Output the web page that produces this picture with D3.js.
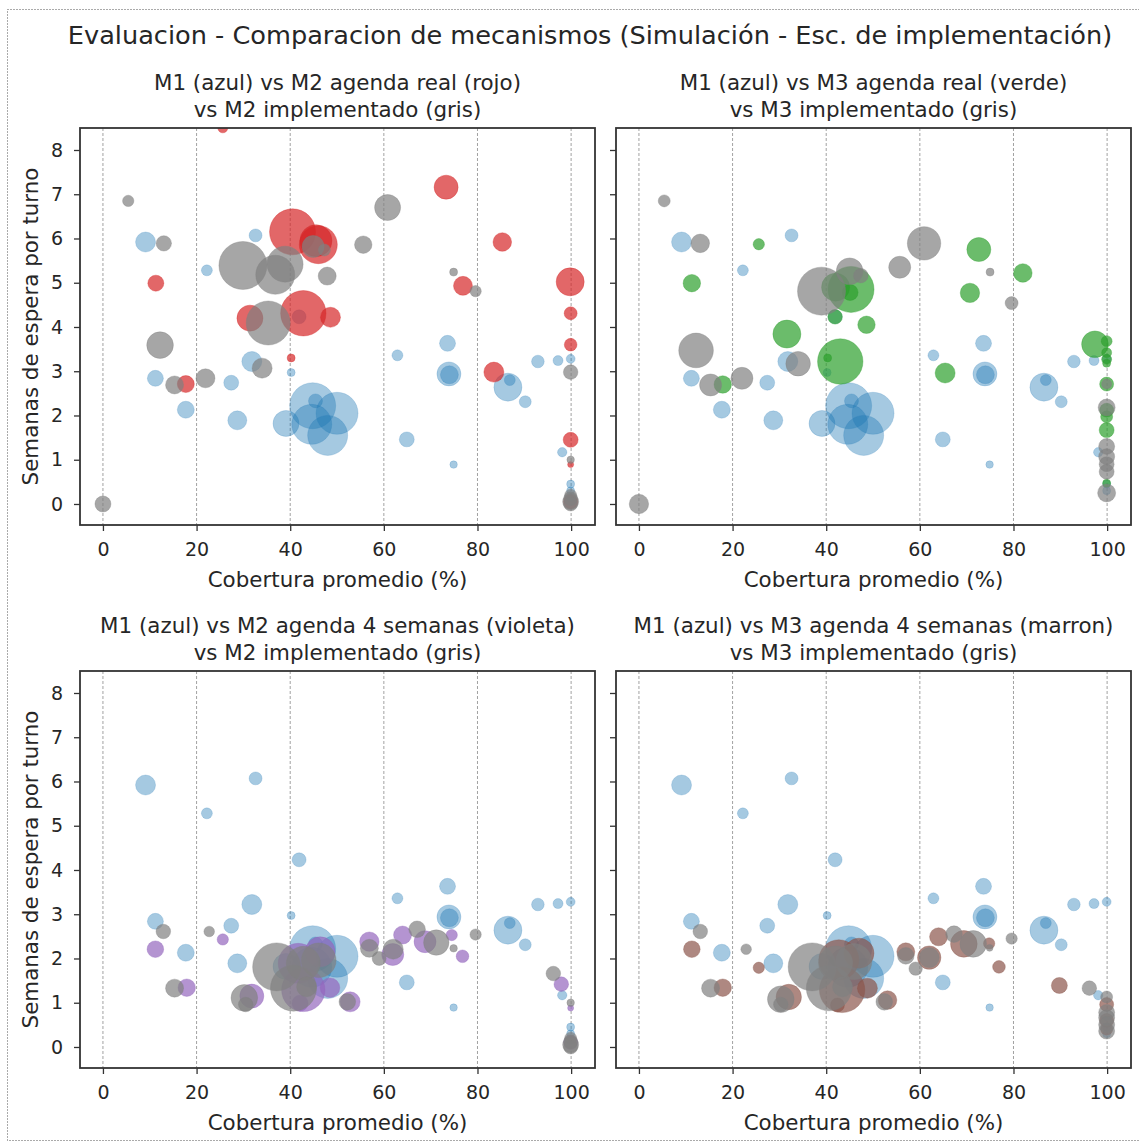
<!DOCTYPE html>
<html>
<head>
<meta charset="utf-8">
<script src="https://cdn.jsdelivr.net/npm/d3@7"></script>
<style>
  html, body { margin: 0; padding: 0; background: #fff; }
  svg { display: block; }
  text { font-family: "DejaVu Sans", sans-serif; fill: #262626; }
</style>
</head>
<body>
<svg id="fig" width="1139" height="1144"></svg>
<script>
// Each point: [cobertura promedio (%), semanas de espera por turno, volumen]
const m1 = [
  [9.1, 5.92, 100], [32.6, 6.07, 42], [22.2, 5.28, 30], [41.9, 4.23, 49],
  [31.8, 3.22, 100], [11.2, 2.84, 64], [27.4, 2.74, 56], [40.2, 2.97, 16],
  [17.7, 2.13, 72], [28.7, 1.89, 90], [39.1, 1.82, 169], [44.8, 2.22, 529],
  [45.4, 2.33, 49], [50.0, 2.05, 441], [44.6, 1.80, 400], [48.0, 1.55, 400],
  [62.9, 3.36, 30], [73.6, 3.63, 64], [73.9, 2.94, 144], [74.0, 2.92, 81],
  [64.9, 1.46, 56], [74.9, 0.89, 14], [86.5, 2.64, 196], [86.9, 2.80, 30],
  [90.2, 2.31, 36], [92.9, 3.22, 40], [97.2, 3.24, 25], [99.9, 3.28, 20],
  [98.1, 1.17, 22], [99.9, 0.45, 16], [99.9, 0.30, 16]
];

const m2AgendaReal = [
  [25.6, 8.5, 25], [11.3, 4.99, 64], [17.7, 2.71, 72], [40.5, 6.15, 529],
  [46.0, 5.86, 361], [45.5, 5.95, 256], [42.8, 4.31, 515], [48.6, 4.22, 100],
  [31.4, 4.20, 169], [40.2, 3.30, 16], [73.3, 7.16, 144], [85.3, 5.92, 86],
  [76.9, 4.93, 90], [99.8, 5.02, 196], [99.9, 4.31, 42], [99.9, 3.60, 40],
  [83.5, 2.98, 100], [99.9, 1.45, 56], [99.9, 0.89, 9], [99.9, 0.05, 49]
];

const m2ImplReal = [
  [0, 0, 64], [5.4, 6.85, 32], [13.0, 5.89, 59], [29.9, 5.39, 576],
  [38.9, 5.42, 324], [36.8, 5.18, 380], [47.9, 5.15, 81], [44.9, 5.82, 121],
  [47.3, 5.74, 36], [35.3, 4.09, 484], [12.2, 3.59, 177], [34.0, 3.07, 100],
  [15.3, 2.69, 81], [21.9, 2.84, 90], [60.8, 6.70, 169], [55.6, 5.86, 76],
  [74.9, 5.24, 16], [79.6, 4.81, 32], [99.9, 2.98, 53], [99.9, 1.0, 14],
  [99.9, 0.2, 36], [99.9, 0.12, 49], [99.9, 0.05, 64], [99.9, 0.0, 49]
];

const m3AgendaReal = [
  [25.6, 5.87, 32], [11.3, 4.99, 76], [31.6, 3.84, 196], [43.0, 3.22, 515],
  [40.3, 3.30, 16], [41.9, 4.23, 53], [17.9, 2.70, 76], [48.6, 4.05, 76],
  [45.3, 4.85, 529], [45.1, 4.78, 64], [42.0, 4.9, 196], [72.6, 5.75, 144],
  [82.0, 5.22, 86], [70.7, 4.77, 94], [65.4, 2.96, 100], [97.4, 3.61, 177],
  [99.9, 3.68, 30], [99.9, 3.42, 25], [99.9, 3.27, 25], [99.9, 3.18, 16],
  [99.9, 2.71, 49], [99.9, 2.12, 49], [99.9, 1.97, 36], [99.9, 1.67, 56],
  [99.9, 0.47, 16]
];

const m3ImplReal = [
  [0, 0, 94], [5.4, 6.85, 36], [13.1, 5.89, 86], [12.2, 3.47, 300],
  [15.3, 2.69, 121], [22.0, 2.84, 121], [34.0, 3.17, 151], [39.0, 4.81, 576],
  [45.0, 5.26, 177], [47.4, 5.16, 53], [60.9, 5.89, 279], [55.7, 5.35, 121],
  [75.0, 5.24, 16], [79.6, 4.54, 42], [99.9, 2.71, 25], [99.9, 2.18, 72],
  [99.9, 1.30, 64], [99.9, 1.07, 64], [99.9, 0.90, 56], [99.9, 0.73, 56],
  [99.9, 0.25, 81]
];

const m2Agenda4 = [
  [11.2, 2.21, 69], [17.9, 1.34, 76], [25.6, 2.43, 32], [31.8, 1.15, 144],
  [41.7, 1.89, 400], [42.8, 1.29, 471], [46.4, 2.15, 225], [48.5, 1.34, 96],
  [42.1, 0.99, 64], [52.8, 1.02, 100], [56.9, 2.38, 94], [61.9, 2.09, 121],
  [64.0, 2.53, 81], [68.8, 2.38, 121], [74.5, 2.53, 32], [76.8, 2.05, 40],
  [97.9, 1.42, 53], [99.9, 0.88, 9], [99.9, 0.1, 49]
];

const m2Impl4 = [
  [12.9, 2.61, 53], [22.7, 2.61, 28], [15.3, 1.33, 81], [37.1, 1.81, 576],
  [40.7, 1.33, 529], [46.1, 1.96, 300], [42.8, 1.89, 289], [43.5, 1.36, 100],
  [30.2, 1.11, 177], [30.5, 0.96, 53], [52.2, 1.02, 69], [56.9, 2.23, 81],
  [59.0, 2.0, 49], [62.0, 2.21, 100], [67.1, 2.66, 69], [71.2, 2.36, 161],
  [74.9, 2.23, 14], [79.6, 2.54, 32], [96.2, 1.66, 53], [99.9, 1.0, 14],
  [99.9, 0.2, 36], [99.9, 0.12, 49], [99.9, 0.05, 64], [99.9, 0.0, 49]
];

const m3Agenda4 = [
  [11.3, 2.21, 69], [17.9, 1.34, 76], [25.6, 1.79, 32], [32.0, 1.13, 161],
  [42.7, 1.97, 400], [43.4, 1.29, 515], [47.0, 2.12, 225], [48.8, 1.33, 100],
  [42.4, 0.95, 49], [53.1, 1.06, 86], [57.0, 2.15, 81], [62.0, 2.02, 137],
  [64.0, 2.49, 81], [69.4, 2.33, 177], [74.8, 2.34, 32], [76.9, 1.81, 40],
  [89.8, 1.39, 64], [99.9, 0.96, 49], [99.9, 0.6, 49], [99.9, 0.4, 36]
];

const m3Impl4 = [
  [13.1, 2.61, 53], [22.9, 2.21, 28], [15.3, 1.33, 81], [37.0, 1.81, 576],
  [40.6, 1.33, 515], [45.9, 1.93, 324], [42.0, 1.90, 289], [43.5, 1.36, 100],
  [30.3, 1.08, 177], [30.3, 0.96, 53], [52.4, 1.02, 69], [57.0, 2.06, 69],
  [59.1, 1.77, 45], [62.0, 2.02, 100], [67.3, 2.55, 69], [71.4, 2.33, 177],
  [74.9, 2.24, 12], [79.6, 2.45, 32], [96.2, 1.33, 53], [99.9, 1.13, 36],
  [99.9, 0.78, 64], [99.9, 0.66, 64], [99.9, 0.50, 64], [99.9, 0.36, 64]
];

const xTicks = [0, 20, 40, 60, 80, 100];
const yTicks = [0, 1, 2, 3, 4, 5, 6, 7, 8];

const figTitle = "Evaluacion - Comparacion de mecanismos (Simulación - Esc. de implementación)";
const xLabel = "Cobertura promedio (%)";
const yLabel = "Semanas de espera por turno";

const panels = [
  { title: ["M1 (azul) vs M2 agenda real (rojo)", "vs M2 implementado (gris)"],
    agenda: m2AgendaReal, impl: m2ImplReal, color: "#d62728", col: 0, row: 0 },
  { title: ["M1 (azul) vs M3 agenda real (verde)", "vs M3 implementado (gris)"],
    agenda: m3AgendaReal, impl: m3ImplReal, color: "#2ca02c", col: 1, row: 0 },
  { title: ["M1 (azul) vs M2 agenda 4 semanas (violeta)", "vs M2 implementado (gris)"],
    agenda: m2Agenda4, impl: m2Impl4, color: "#9467bd", col: 0, row: 1 },
  { title: ["M1 (azul) vs M3 agenda 4 semanas (marron)", "vs M3 implementado (gris)"],
    agenda: m3Agenda4, impl: m3Impl4, color: "#8c564b", col: 1, row: 1 }
];

const svg = d3.select("#fig");

// notebook output frame
svg.append("rect")
  .attr("x", 7.5).attr("y", 9.5).attr("width", 1140).attr("height", 1131)
  .attr("fill", "none").attr("stroke", "#555").attr("stroke-width", 1)
  .attr("stroke-dasharray", "1,2");

svg.append("text")
  .attr("x", 590).attr("y", 44)
  .attr("text-anchor", "middle")
  .style("font-size", "25.6px")
  .text(figTitle);

const axW = 515, axH = 397;
const colX = [80, 616], rowY = [128, 671];

const x = d3.scaleLinear().domain([-4.9, 105.1]).range([0, axW]);
const y = d3.scaleLinear().domain([-0.475, 8.497]).range([axH, 0]);
const r = d3.scaleSqrt().domain([0, 100]).range([0, 10]);

panels.forEach((p, i) => {
  const g = svg.append("g")
    .attr("transform", `translate(${colX[p.col]},${rowY[p.row]})`);

  const clipId = "clip" + i;
  g.append("clipPath").attr("id", clipId)
    .append("rect").attr("width", axW).attr("height", axH);

  // vertical dashed grid
  g.append("g").selectAll("line").data(xTicks).join("line")
    .attr("x1", d => x(d)).attr("x2", d => x(d))
    .attr("y1", 0).attr("y2", axH)
    .attr("stroke", "#8a8a8a").attr("stroke-width", 0.8)
    .attr("stroke-dasharray", "3,2");

  const marks = g.append("g").attr("clip-path", `url(#${clipId})`);
  const layer = (data, color, alpha) => {
    marks.append("g").selectAll("circle").data(data).join("circle")
      .attr("cx", d => x(d[0]))
      .attr("cy", d => y(d[1]))
      .attr("r", d => r(d[2]))
      .attr("fill", color).attr("fill-opacity", alpha)
      .attr("stroke", color).attr("stroke-opacity", alpha * 0.6)
      .attr("stroke-width", 0.8);
  };
  layer(m1, "#1f77b4", 0.4);
  layer(p.agenda, p.color, 0.7);
  layer(p.impl, "#808080", 0.7);

  // axes
  const xAxis = d3.axisBottom(x).tickValues(xTicks).tickSize(6).tickPadding(12);
  const yAxis = d3.axisLeft(y).tickValues(yTicks).tickSize(6).tickPadding(11);
  if (p.col === 1) yAxis.tickFormat("");

  const gx = g.append("g").attr("transform", `translate(0,${axH})`).call(xAxis);
  const gy = g.append("g").call(yAxis);
  [gx, gy].forEach(a => {
    a.select(".domain").remove();
    a.selectAll(".tick line").attr("stroke", "#333").attr("stroke-width", 1.3);
    a.selectAll(".tick text").style("font-size", "19px")
      .style("font-family", "DejaVu Sans, sans-serif").attr("fill", "#262626");
  });

  // frame
  g.append("rect").attr("width", axW).attr("height", axH)
    .attr("fill", "none").attr("stroke", "#333").attr("stroke-width", 1.8);

  // titles
  g.append("text").attr("x", axW / 2).attr("y", -38)
    .attr("text-anchor", "middle").style("font-size", "21.4px").text(p.title[0]);
  g.append("text").attr("x", axW / 2).attr("y", -11)
    .attr("text-anchor", "middle").style("font-size", "21.4px").text(p.title[1]);

  g.append("text").attr("x", axW / 2).attr("y", axH + 62)
    .attr("text-anchor", "middle").style("font-size", "21.4px").text(xLabel);

  if (p.col === 0) {
    g.append("text")
      .attr("transform", `translate(-42,${axH / 2}) rotate(-90)`)
      .attr("text-anchor", "middle").style("font-size", "21.4px").text(yLabel);
  }
});
</script>
</body>
</html>
